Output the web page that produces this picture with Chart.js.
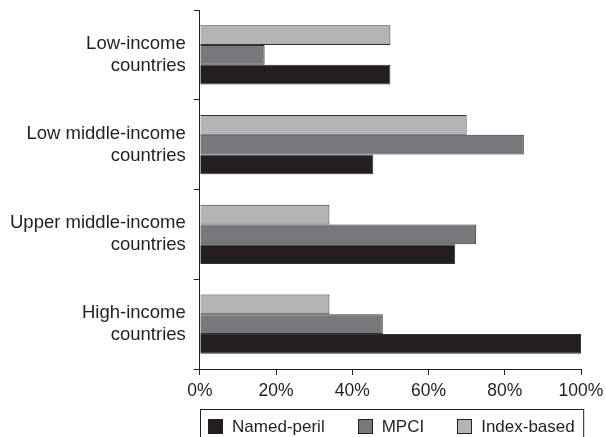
<!DOCTYPE html>
<html>
<head>
<meta charset="utf-8">
<script src="https://cdn.jsdelivr.net/npm/chart.js@4/dist/chart.umd.min.js"></script>
<style>
  html, body { margin: 0; padding: 0; background: #fff; }
  #wrap { width: 606px; height: 437px; }
</style>
</head>
<body>
<div id="wrap"><canvas id="chart"></canvas></div>
<script>
// categories (top to bottom)
const categories = [
  ["Low-income", "countries"],
  ["Low middle-income", "countries"],
  ["Upper middle-income", "countries"],
  ["High-income", "countries"]
];
// shares in percent
const namedPeril = [50, 45.5, 67, 100];
const mpci = [17, 85, 72.5, 48];
const indexBased = [50, 70, 34, 34];
const xTicks = [0, 20, 40, 60, 80, 100];

const ink = "#231f20";
const fontFamily = "'Liberation Sans', Arial, sans-serif";

// legend drawn by hand: boxed, under the x axis, items in legend order
const boxedLegend = {
  id: "boxedLegend",
  afterDraw(chart) {
    const ctx = chart.ctx;
    const xs = chart.scales.x;
    const top = chart.chartArea.bottom + 40;
    ctx.save();
    ctx.strokeStyle = ink;
    ctx.lineWidth = 1;
    ctx.strokeRect(Math.round(xs.left) + 0.5, top + 0.5, xs.right - xs.left + 2, chart.height);

    ctx.font = "17px " + fontFamily;
    ctx.textBaseline = "middle";
    const sets = chart.data.datasets.slice().reverse();
    const sw = 15, gapText = 9, gapItem = 33;
    const widths = sets.map(d => sw + gapText + ctx.measureText(d.label).width);
    const total = widths.reduce((a, b) => a + b, 0) + gapItem * (sets.length - 1);
    let x = (xs.left + xs.right + 2) / 2 - total / 2;
    const cy = top + 17;
    sets.forEach((d, i) => {
      ctx.fillStyle = d.backgroundColor;
      ctx.fillRect(Math.round(x), Math.round(cy - sw / 2), sw, sw);
      ctx.strokeStyle = ink;
      ctx.strokeRect(Math.round(x) + 0.5, Math.round(cy - sw / 2) + 0.5, sw - 1, sw - 1);
      ctx.fillStyle = ink;
      ctx.fillText(d.label, x + sw + gapText, cy + 1);
      x += widths[i] + gapItem;
    });
    ctx.restore();
  }
};

new Chart(document.getElementById("chart"), {
  type: "bar",
  data: {
    labels: categories,
    datasets: [
      { label: "Index-based", data: indexBased, backgroundColor: "#b3b4b6" },
      { label: "MPCI", data: mpci, backgroundColor: "#77787b" },
      { label: "Named-peril", data: namedPeril, backgroundColor: ink }
    ].map(d => Object.assign(d, {
      borderColor: "#333",
      borderWidth: 1,
      categoryPercentage: 0.66,
      barPercentage: 1
    }))
  },
  options: {
    indexAxis: "y",
    responsive: true,
    maintainAspectRatio: false,
    animation: false,
    layout: { padding: { top: 10, right: 25, left: 2, bottom: 29 } },
    scales: {
      x: {
        min: 0,
        max: 100,
        afterBuildTicks: s => { s.ticks = xTicks.map(v => ({ value: v })); },
        afterFit: s => { s.paddingLeft = 0; s.paddingRight = 0; },
        border: { color: ink, width: 1 },
        grid: { drawOnChartArea: false, color: ink, tickLength: 6 },
        ticks: {
          color: ink,
          padding: 6,
          font: { family: fontFamily, size: 17.5 },
          callback: v => v + "%"
        }
      },
      y: {
        afterFit: s => { s.paddingTop = 0; s.paddingBottom = 0; },
        border: { color: ink, width: 1 },
        grid: { drawOnChartArea: false, color: ink, tickLength: 6, offset: true },
        ticks: {
          color: ink,
          padding: 8,
          font: { family: fontFamily, size: 18.5, lineHeight: 1.19 }
        }
      }
    },
    plugins: {
      tooltip: { enabled: false },
      legend: { display: false }
    }
  },
  plugins: [boxedLegend]
});
</script>
</body>
</html>
